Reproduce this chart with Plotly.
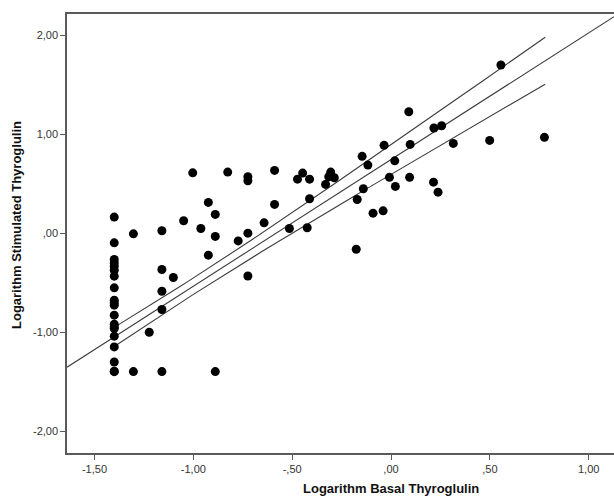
import numpy as np
import plotly.graph_objects as go

# Scatter data
col_x = -1.40
col_y = [0.165, -0.095, -0.263, -0.297, -0.330, -0.371, -0.431, -0.549, -0.674, -0.701,
         -0.724, -0.825, -0.916, -0.943, -0.960, -1.037, -1.145, -1.297, -1.391, -1.395]

other_x = [-1.303, -1.303, -1.159, -1.159, -1.159, -1.159, -1.159, -1.223, -1.101, -1.049,
           -1.003, -0.962, -0.924, -0.924, -0.889, -0.889, -0.889, -0.826, -0.773, -0.724,
           -0.724, -0.724, -0.724, -0.642, -0.589, -0.589, -0.514, -0.473, -0.447, -0.424,
           -0.412, -0.412, -0.331, -0.315, -0.305, -0.287, -0.176, -0.171, -0.146, -0.140,
           -0.117, -0.091, -0.040, -0.035, -0.008, 0.019, 0.022, 0.090, 0.094, 0.097,
           0.215, 0.217, 0.238, 0.256, 0.315, 0.499, 0.556, 0.776]
other_y = [-0.004, -1.394, 0.027, -0.364, -0.583, -0.768, -1.394, -0.997, -0.445, 0.128,
           0.612, 0.050, 0.313, -0.219, 0.192, -0.030, -1.394, 0.619, -0.075, 0.572,
           0.531, 0.003, -0.430, 0.107, 0.636, 0.293, 0.050, 0.548, 0.609, 0.057,
           0.548, 0.350, 0.495, 0.572, 0.619, 0.562, -0.159, 0.343, 0.778, 0.451,
           0.690, 0.205, 0.228, 0.889, 0.566, 0.733, 0.475, 1.228, 0.566, 0.899,
           0.518, 1.064, 0.417, 1.087, 0.909, 0.939, 1.700, 0.970]

# Fit line and mean-confidence band parameters
fit_intercept = 0.746
fit_slope = 1.279
ci_center = -1.0
ci_min_half = 0.083
ci_growth = 0.1245
ci_x_range = [-1.40, 0.78]

# Axis ranges, tick labels, titles
x_range = [-1.639, 1.128]
y_range = [-2.216, 2.215]
x_ticks = [-1.5, -1.0, -0.5, 0.0, 0.5, 1.0]
x_tick_text = ["-1,50", "-1,00", "-,50", ",00", ",50", "1,00"]
y_ticks = [2.0, 1.0, 0.0, -1.0, -2.0]
y_tick_text = ["2,00", "1,00", ",00", "-1,00", "-2,00"]
x_title = "Logarithm Basal Thyroglulin"
y_title = "Logarithm Stimulated Thyroglulin"

xs = [col_x] * len(col_y) + other_x
ys = col_y + other_y

fig = go.Figure()

line_style = dict(color="#3c3c3c", width=1.1)

# fit line over full axis
fx = np.array(x_range)
fig.add_trace(go.Scatter(x=fx, y=fit_intercept + fit_slope * fx, mode="lines",
                         line=line_style, hoverinfo="skip"))

# confidence band lines
cx = np.linspace(ci_x_range[0], ci_x_range[1], 60)
half = np.sqrt(ci_min_half ** 2 + (ci_growth * (cx - ci_center)) ** 2)
cfit = fit_intercept + fit_slope * cx
for sign in (1, -1):
    fig.add_trace(go.Scatter(x=cx, y=cfit + sign * half, mode="lines",
                             line=line_style, hoverinfo="skip"))

fig.add_trace(go.Scatter(x=xs, y=ys, mode="markers",
                         marker=dict(color="black", size=9, line=dict(width=0))))

font_family = "Arial, Liberation Sans, sans-serif"
W, H = 614, 497
ml, mr, mt, mb = 67, 0, 14, 44
pw, ph = W - ml - mr, H - mt - mb

fig.update_layout(
    width=W, height=H,
    margin=dict(l=ml, r=mr, t=mt, b=mb, autoexpand=False),
    paper_bgcolor="white", plot_bgcolor="white",
    showlegend=False,
    font=dict(family=font_family, size=11, color="#333333"),
    xaxis=dict(range=x_range, tickvals=x_ticks, ticktext=x_tick_text,
               showgrid=False, zeroline=False, showline=True, mirror=True,
               linecolor="#5a5a5a", linewidth=1.5, automargin=False,
               ticks="outside", ticklen=5, tickcolor="#5a5a5a", tickwidth=1.3,
               tickfont=dict(size=11, color="#333333")),
    yaxis=dict(range=y_range, tickvals=y_ticks, ticktext=y_tick_text,
               showgrid=False, zeroline=False, showline=True, mirror=False,
               linecolor="#5a5a5a", linewidth=1.5, automargin=False,
               ticks="outside", ticklen=5, tickcolor="#5a5a5a", tickwidth=1.3,
               tickfont=dict(size=11, color="#333333")),
    annotations=[
        dict(text="<b>" + x_title + "</b>", xref="paper", yref="paper",
             x=(391 - ml) / pw, y=(H - mb - 488) / ph, xanchor="center", yanchor="middle",
             showarrow=False, font=dict(size=13, color="#111111")),
        dict(text="<b>" + y_title + "</b>", xref="paper", yref="paper",
             x=(17 - ml) / pw, y=(H - mb - 225) / ph, xanchor="center", yanchor="middle",
             textangle=-90, showarrow=False, font=dict(size=13, color="#111111")),
    ],
)

fig.write_html("out.html", config={"displayModeBar": False},
               post_script="document.body.style.margin='0';document.body.style.padding='0';")
